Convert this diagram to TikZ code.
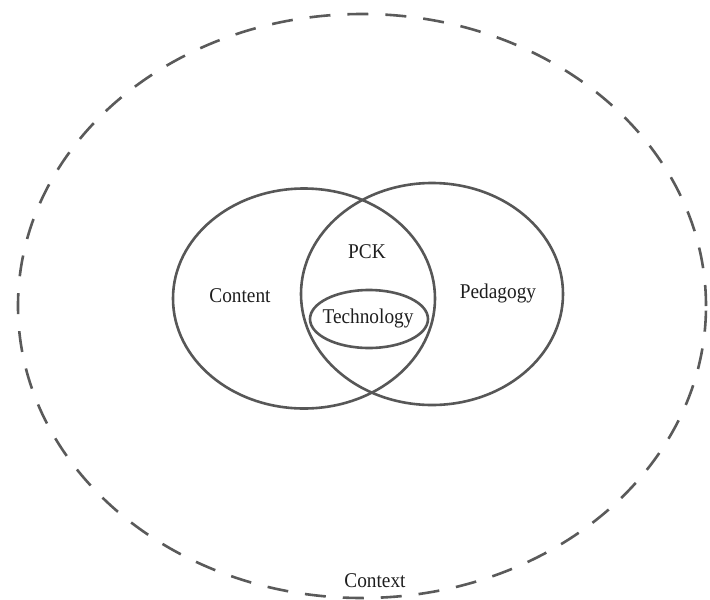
\documentclass[tikz,border=0pt]{standalone}
\usepackage{fontspec}
\setmainfont{Liberation Serif}
\usetikzlibrary{shapes.geometric}
\definecolor{ringgray}{HTML}{575757}
\definecolor{dashgray}{HTML}{5A5A5A}
\definecolor{inkgray}{HTML}{1E1E1E}
\tikzset{
  ring/.style={draw=ringgray, line width=2.6pt, ellipse, inner sep=0pt},
  context/.style={draw=dashgray, line width=2.6pt, ellipse, inner sep=0pt,
    dash pattern=on 21pt off 17pt},
  lbl/.style={text=inkgray, inner sep=0pt,
    font=\fontsize{21}{24}\selectfont},
}
\newcommand{\squeeze}[1]{\scalebox{0.92}[1]{#1}}
\begin{document}
\begin{tikzpicture}[x=1pt, y=-1pt]
  \useasboundingbox (0,0) rectangle (710,600);
  % surrounding context
  \node[context, minimum width=688pt, minimum height=584pt] (ctx) at (362,306) {};
  % the two overlapping knowledge domains
  \node[ring, minimum width=262pt, minimum height=220pt] (content) at (304,298.5) {};
  \node[ring, minimum width=262pt, minimum height=222pt] (pedagogy) at (432,294) {};
  % technology at the centre
  \node[ring, minimum width=118pt, minimum height=58pt] (tech) at (369,319) {};
  % labels
  \node[lbl] (lcontent) at (240,296) {\squeeze{Content}};
  \node[lbl] (lped) at (498,293) {\squeeze{Pedagogy}};
  \node[lbl] (lpck) at (367,252) {\squeeze{PCK}};
  \node[lbl] (ltech) at (368,318) {\squeeze{Technology}};
  \node[lbl] (lctx) at (375,581) {\squeeze{Context}};
\end{tikzpicture}
\end{document}
